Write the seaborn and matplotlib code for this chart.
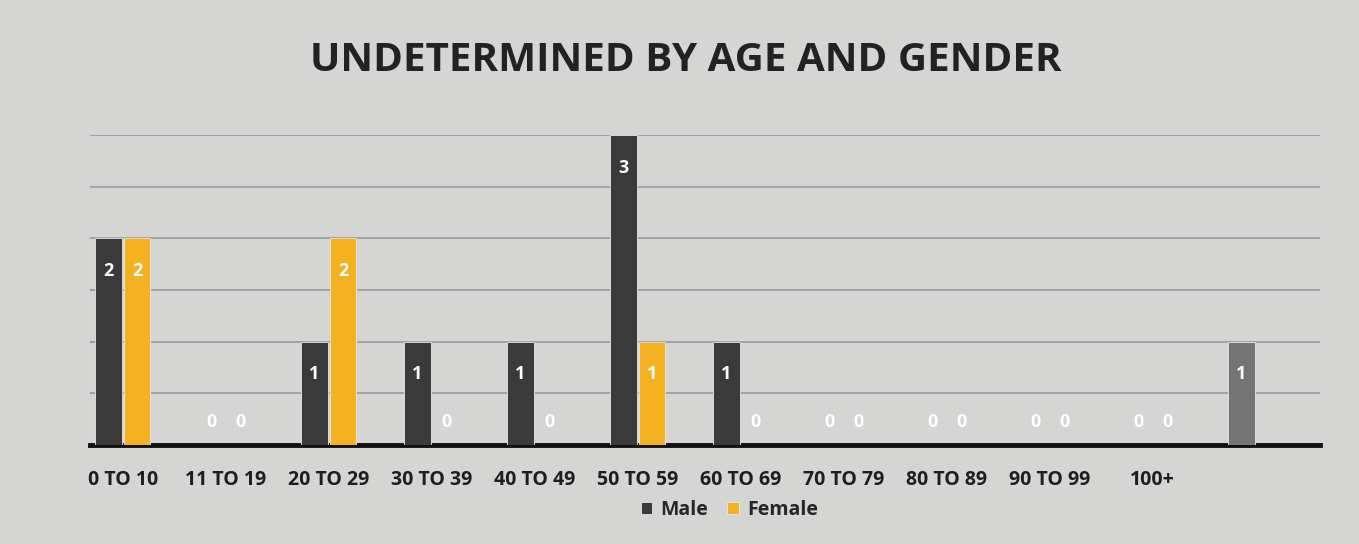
from __future__ import annotations

import matplotlib

matplotlib.use("Agg")

import matplotlib.pyplot as plt
import numpy as np
import pandas as pd
import seaborn as sns


AGE_GROUPS = [
    "0 TO 10", "11 TO 19", "20 TO 29", "30 TO 39", "40 TO 49", "50 TO 59",
    "60 TO 69", "70 TO 79", "80 TO 89", "90 TO 99", "100+", "",
]
MALE = [2, 0, 1, 1, 1, 3, 1, 0, 0, 0, 0, 1]
FEMALE = [2, 0, 2, 0, 0, 1, 0, 0, 0, 0, 0, np.nan]
GENDERS = ["Male", "Female"]

MALE_COLOR = "#3a3a3a"
FEMALE_COLOR = "#f4b223"
EXTRA_COLOR = "#747474"
BACKGROUND = "#d5d5d3"
TEXT_COLOR = "#1e1e1e"


def build_frame() -> pd.DataFrame:
    frame = pd.DataFrame({"age": AGE_GROUPS, "Male": MALE, "Female": FEMALE})
    frame = frame.melt(id_vars="age", var_name="gender", value_name="count")
    return frame.dropna()


def main() -> None:
    sns.set_theme(style="white")
    plt.rcParams["font.family"] = ["Open Sans", "DejaVu Sans"]

    fig = plt.figure(figsize=(13.59, 5.44), dpi=100, facecolor=BACKGROUND)
    ax = fig.add_axes([0.066, 0.182, 0.905, 0.570])
    ax.set_facecolor(BACKGROUND)

    sns.barplot(
        data=build_frame(),
        x="age",
        y="count",
        hue="gender",
        hue_order=GENDERS,
        order=AGE_GROUPS,
        palette=[MALE_COLOR, FEMALE_COLOR],
        width=0.56,
        gap=0.08,
        saturation=1,
        edgecolor="#e8e8e8",
        linewidth=0.6,
        ax=ax,
        zorder=3,
    )

    # the lone bar on the far right is a lighter grey in the original
    ax.containers[0].patches[-1].set_facecolor(EXTRA_COLOR)

    for container in ax.containers:
        values = container.datavalues
        inside = [f"{v:g}" if v > 0 else "" for v in values]
        zeros = ["0" if v == 0 else "" for v in values]
        ax.bar_label(container, labels=inside, padding=-30, color="white",
                     fontsize=13, fontweight="bold")
        ax.bar_label(container, labels=zeros, padding=10, color="white",
                     fontsize=13, fontweight="bold")

    ax.set_ylim(0, 3)
    ax.set_yticks(np.arange(0, 3.01, 0.5))
    ax.set_yticklabels([])
    ax.yaxis.grid(True, color="#9a9a9a", linewidth=1.2, zorder=0)
    ax.set_xlim(-0.32, 11.62)
    ax.set_xlabel("")
    ax.set_ylabel("")
    ax.tick_params(axis="x", length=0, pad=18, labelsize=14, labelcolor=TEXT_COLOR)
    for label in ax.get_xticklabels():
        label.set_fontweight("bold")
    for side in ["top", "right", "left"]:
        ax.spines[side].set_visible(False)
    ax.spines["bottom"].set_color("#111111")
    ax.spines["bottom"].set_linewidth(3.5)

    ax.legend(
        loc="upper center",
        bbox_to_anchor=(0.52, -0.12),
        ncol=2,
        frameon=False,
        handlelength=0.6,
        handleheight=0.6,
        handletextpad=0.4,
        columnspacing=1.0,
        prop={"weight": "bold", "size": 14},
    )

    fig.suptitle(
        "UNDETERMINED BY AGE AND GENDER",
        x=0.505,
        y=0.925,
        fontsize=29,
        fontweight="bold",
        color="#222222",
    )

    fig.savefig("out.png", dpi=100, facecolor=BACKGROUND)
    plt.close(fig)


if __name__ == "__main__":
    main()
